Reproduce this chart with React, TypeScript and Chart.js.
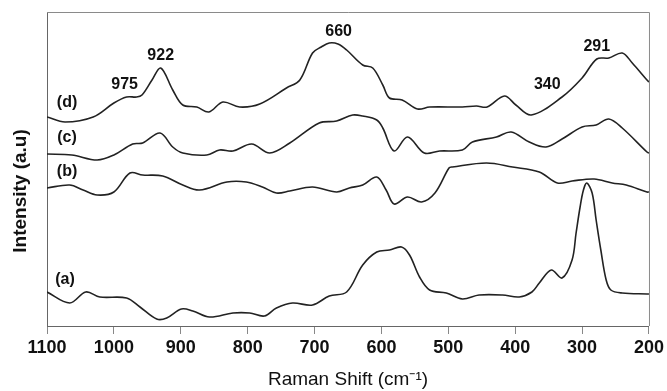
import React, { useEffect, useRef } from "react";
import { Chart, registerables } from "chart.js";

Chart.register(...registerables);

// Raman shift (cm-1) and intensity (a.u., offset spectra)
const shiftA = [1100, 1066, 1042, 1021, 981, 961, 936, 921, 899, 882, 857, 822, 797, 775, 757, 733, 703, 678, 652, 628, 607, 588, 570, 558, 543, 528, 503, 479, 454, 419, 394, 375, 364, 346, 330, 315, 309, 303, 298, 293, 285, 279, 272, 264, 257, 240, 203, 200];
const intensityA = [34, 23, 34, 29, 28, 19, 7, 8, 17, 15, 9, 13, 13, 10, 18, 23, 21, 30, 34, 61, 74, 76, 79, 71, 49, 36, 33, 27, 31, 31, 29, 34, 43, 56, 48, 66, 93, 119, 136, 143, 133, 106, 76, 46, 36, 33, 32, 32];

const shiftB = [1100, 1066, 1046, 1025, 1000, 976, 957, 927, 897, 872, 831, 802, 778, 757, 737, 703, 667, 648, 628, 607, 593, 581, 561, 540, 520, 499, 494, 443, 404, 364, 337, 315, 282, 255, 234, 203, 200];
const intensityB = [138, 141, 136, 131, 134, 153, 151, 150, 141, 136, 144, 144, 139, 133, 135, 139, 134, 138, 141, 149, 136, 122, 129, 124, 133, 158, 159, 163, 159, 154, 143, 145, 147, 143, 141, 134, 134];

const shiftC = [1100, 1063, 1025, 1000, 972, 957, 931, 912, 897, 861, 842, 822, 794, 767, 737, 693, 667, 643, 628, 607, 598, 581, 561, 536, 513, 479, 464, 428, 406, 379, 354, 330, 300, 279, 260, 240, 203, 200];
const intensityC = [172, 171, 166, 171, 182, 183, 193, 179, 173, 171, 176, 175, 182, 173, 183, 203, 205, 211, 210, 206, 198, 175, 189, 173, 175, 176, 184, 189, 194, 184, 179, 187, 199, 201, 207, 198, 174, 173];

const shiftD = [1100, 1073, 1031, 1000, 981, 966, 958, 943, 930, 912, 897, 876, 858, 837, 812, 782, 742, 722, 703, 690, 678, 665, 652, 628, 613, 598, 588, 569, 546, 528, 479, 458, 442, 416, 399, 376, 330, 300, 278, 260, 240, 225, 203, 200];
const intensityD = [209, 204, 209, 223, 229, 229, 231, 246, 258, 236, 221, 219, 214, 224, 219, 222, 238, 246, 273, 279, 283, 282, 276, 261, 258, 241, 228, 226, 217, 219, 219, 220, 219, 230, 221, 211, 229, 248, 267, 268, 273, 263, 246, 244];

const xTicks = [1100, 1000, 900, 800, 700, 600, 500, 400, 300, 200];

const curveLabels = ["(a)", "(b)", "(c)", "(d)"];
const curveLabelShift = [1073, 1070, 1070, 1070];
const curveLabelIntensity = [46, 154, 188, 223];

const peakLabels = ["975", "922", "660", "340", "291"];
const peakShift = [984, 930, 664, 352, 278];
const peakIntensity = [241, 270, 294, 241, 279];

const FONT = 'Arial, "Liberation Sans", Helvetica, sans-serif';
const LINE = "#222";

function pts(xs: number[], ys: number[]) {
  return xs.map((x, i) => ({ x, y: ys[i] }));
}

export default function App() {
  const ref = useRef<HTMLCanvasElement | null>(null);

  useEffect(() => {
    if (!ref.current) return;
    const annotate = {
      id: "annotate",
      afterDatasetsDraw(chart: any) {
        const { ctx, chartArea, scales } = chart;
        const xs = scales.x;
        const ys = scales.y;
        ctx.save();
        // frame top & right
        ctx.strokeStyle = "#8a8a8a";
        ctx.lineWidth = 1;
        ctx.beginPath();
        ctx.moveTo(chartArea.left, chartArea.top + 0.5);
        ctx.lineTo(chartArea.right + 0.5, chartArea.top + 0.5);
        ctx.lineTo(chartArea.right + 0.5, chartArea.bottom);
        ctx.stroke();

        ctx.fillStyle = "#111";
        ctx.textAlign = "center";
        ctx.textBaseline = "middle";
        ctx.font = `bold 16px ${FONT}`;
        curveLabels.forEach((t, i) => {
          ctx.fillText(t, xs.getPixelForValue(curveLabelShift[i]), ys.getPixelForValue(curveLabelIntensity[i]));
        });
        peakLabels.forEach((t, i) => {
          ctx.fillText(t, xs.getPixelForValue(peakShift[i]), ys.getPixelForValue(peakIntensity[i]));
        });

        // y-axis title
        ctx.font = `bold 19px ${FONT}`;
        ctx.translate(21, 191);
        ctx.rotate(-Math.PI / 2);
        ctx.fillText("Intensity (a.u)", 0, 0);
        ctx.restore();
      },
    };

    const mk = (label: string, xs: number[], ys: number[]) => ({
      label,
      data: pts(xs, ys),
      borderColor: LINE,
      borderWidth: 1.6,
      pointRadius: 0,
      fill: false,
      tension: 0.35,
    });

    const chart = new Chart(ref.current, {
      type: "line",
      data: {
        datasets: [
          mk("(a)", shiftA, intensityA),
          mk("(b)", shiftB, intensityB),
          mk("(c)", shiftC, intensityC),
          mk("(d)", shiftD, intensityD),
        ],
      },
      options: {
        responsive: false,
        animation: false,
        layout: { padding: { top: 12, right: 17, left: 0, bottom: 0 } },
        plugins: { legend: { display: false }, tooltip: { enabled: false } },
        scales: {
          x: {
            type: "linear",
            reverse: true,
            min: 200,
            max: 1100,
            afterBuildTicks: (s: any) => {
              s.ticks = xTicks.map((v) => ({ value: v }));
            },
            afterFit: (s: any) => {
              s.height = 65;
            },
            grid: { display: true, drawOnChartArea: false, drawTicks: true, tickLength: 8, color: "#888" },
            border: { display: true, color: "#666", width: 1 },
            ticks: {
              color: "#111",
              font: { family: FONT, size: 18, weight: "bold" },
              padding: 3,
              maxRotation: 0,
              autoSkip: false,
              callback: (v: any) => String(v),
            },
            title: {
              display: true,
              text: "Raman Shift (cm⁻¹)",
              color: "#111",
              font: { family: FONT, size: 19 },
              padding: { top: 0, bottom: 0 },
            },
          },
          y: {
            type: "linear",
            min: 0,
            max: 314,
            afterFit: (s: any) => {
              s.width = 47;
            },
            grid: { display: false },
            border: { display: true, color: "#666", width: 1 },
            ticks: { display: false },
          },
        },
      },
      plugins: [annotate],
    } as any);
    return () => chart.destroy();
  }, []);

  return (
    <div style={{ position: "fixed", left: 0, top: 0, width: 667, height: 391, background: "#fff" }}>
      <canvas ref={ref} width={667} height={391} style={{ display: "block", width: 667, height: 391 }} />
    </div>
  );
}
